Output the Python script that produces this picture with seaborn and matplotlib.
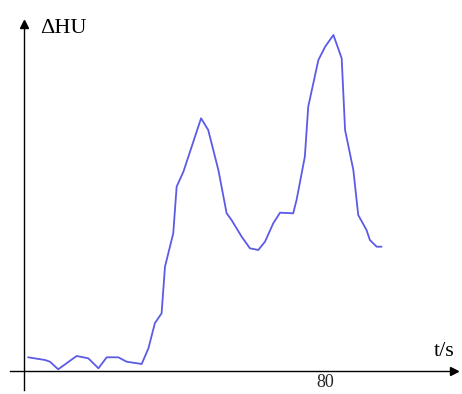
import matplotlib
matplotlib.use("Agg")
import matplotlib.pyplot as plt
import seaborn as sns
import pandas as pd

t = [1.1, 5.6, 6.9, 9.1, 14.0, 17.1, 19.8, 22.0, 25.1, 27.3, 31.3, 33.1, 34.8, 36.6,
     37.5, 39.7, 40.6, 42.4, 44.6, 47.1, 49.0, 51.7, 53.9, 55.2, 57.9, 60.1, 62.3,
     64.1, 66.3, 68.1, 71.6, 72.5, 74.7, 75.6, 78.3, 80.1, 82.3, 84.5, 85.4, 87.6,
     88.9, 91.1, 92.0, 93.8, 95.1]
dhu = [13.7, 11, 9.3, 1.7, 15, 12.7, 2.7, 13.7, 13.7, 9.3, 7, 22.7, 47.7, 57.7,
       104.3, 137.7, 184.3, 199.3, 224.3, 252.7, 241, 201, 157.7, 151, 134.3, 122.7, 121,
       129.3, 147.7, 158.3, 157.7, 171, 214.3, 264.3, 311, 324.3, 336, 312.7, 241, 201,
       156, 141, 131, 124.3, 124.3]
xticks = [20, 40, 60, 80, 100]
xticklabels = ["", "", "", "80", ""]

df = pd.DataFrame({"t": t, "dhu": dhu})

sns.set_style("white")
plt.rcParams["font.family"] = ["Liberation Serif", "DejaVu Serif"]

fig = plt.figure(figsize=(4.62, 3.94), dpi=100)
ax = fig.add_axes([0, 0, 1, 1])
ax.set_facecolor("white")
sns.lineplot(data=df, x="t", y="dhu", ax=ax, color="#5b5be8", linewidth=1.3)

ax.set_xlim(-6.38, 116.5)
ax.set_ylim(-23, 371)

for s in ["top", "right"]:
    ax.spines[s].set_visible(False)
ax.spines["bottom"].set_position(("data", 0))
ax.spines["left"].set_position(("data", 0))
ax.spines["bottom"].set_bounds(-3.7, 113)
ax.spines["left"].set_bounds(-19, 345)
for s in ["bottom", "left"]:
    ax.spines[s].set_color("black")
    ax.spines[s].set_linewidth(1.0)

ax.plot([114.3], [0], marker=">", color="black", markersize=6, clip_on=False)
ax.plot([0], [347], marker="^", color="black", markersize=6, clip_on=False)

ax.set_xticks(xticks)
ax.set_xticklabels(xticklabels, fontsize=13)
ax.set_yticks([])
ax.tick_params(axis="x", direction="in", length=3, width=1.2, color="black", pad=2)
ax.set_xlabel("")
ax.set_ylabel("")

ax.text(4.3, 343, "ΔHU", fontsize=16, ha="left", va="center", color="black")
ax.text(109.0, 20, "t/s", fontsize=16, ha="left", va="center", color="black")

fig.savefig("out.png", dpi=100)
